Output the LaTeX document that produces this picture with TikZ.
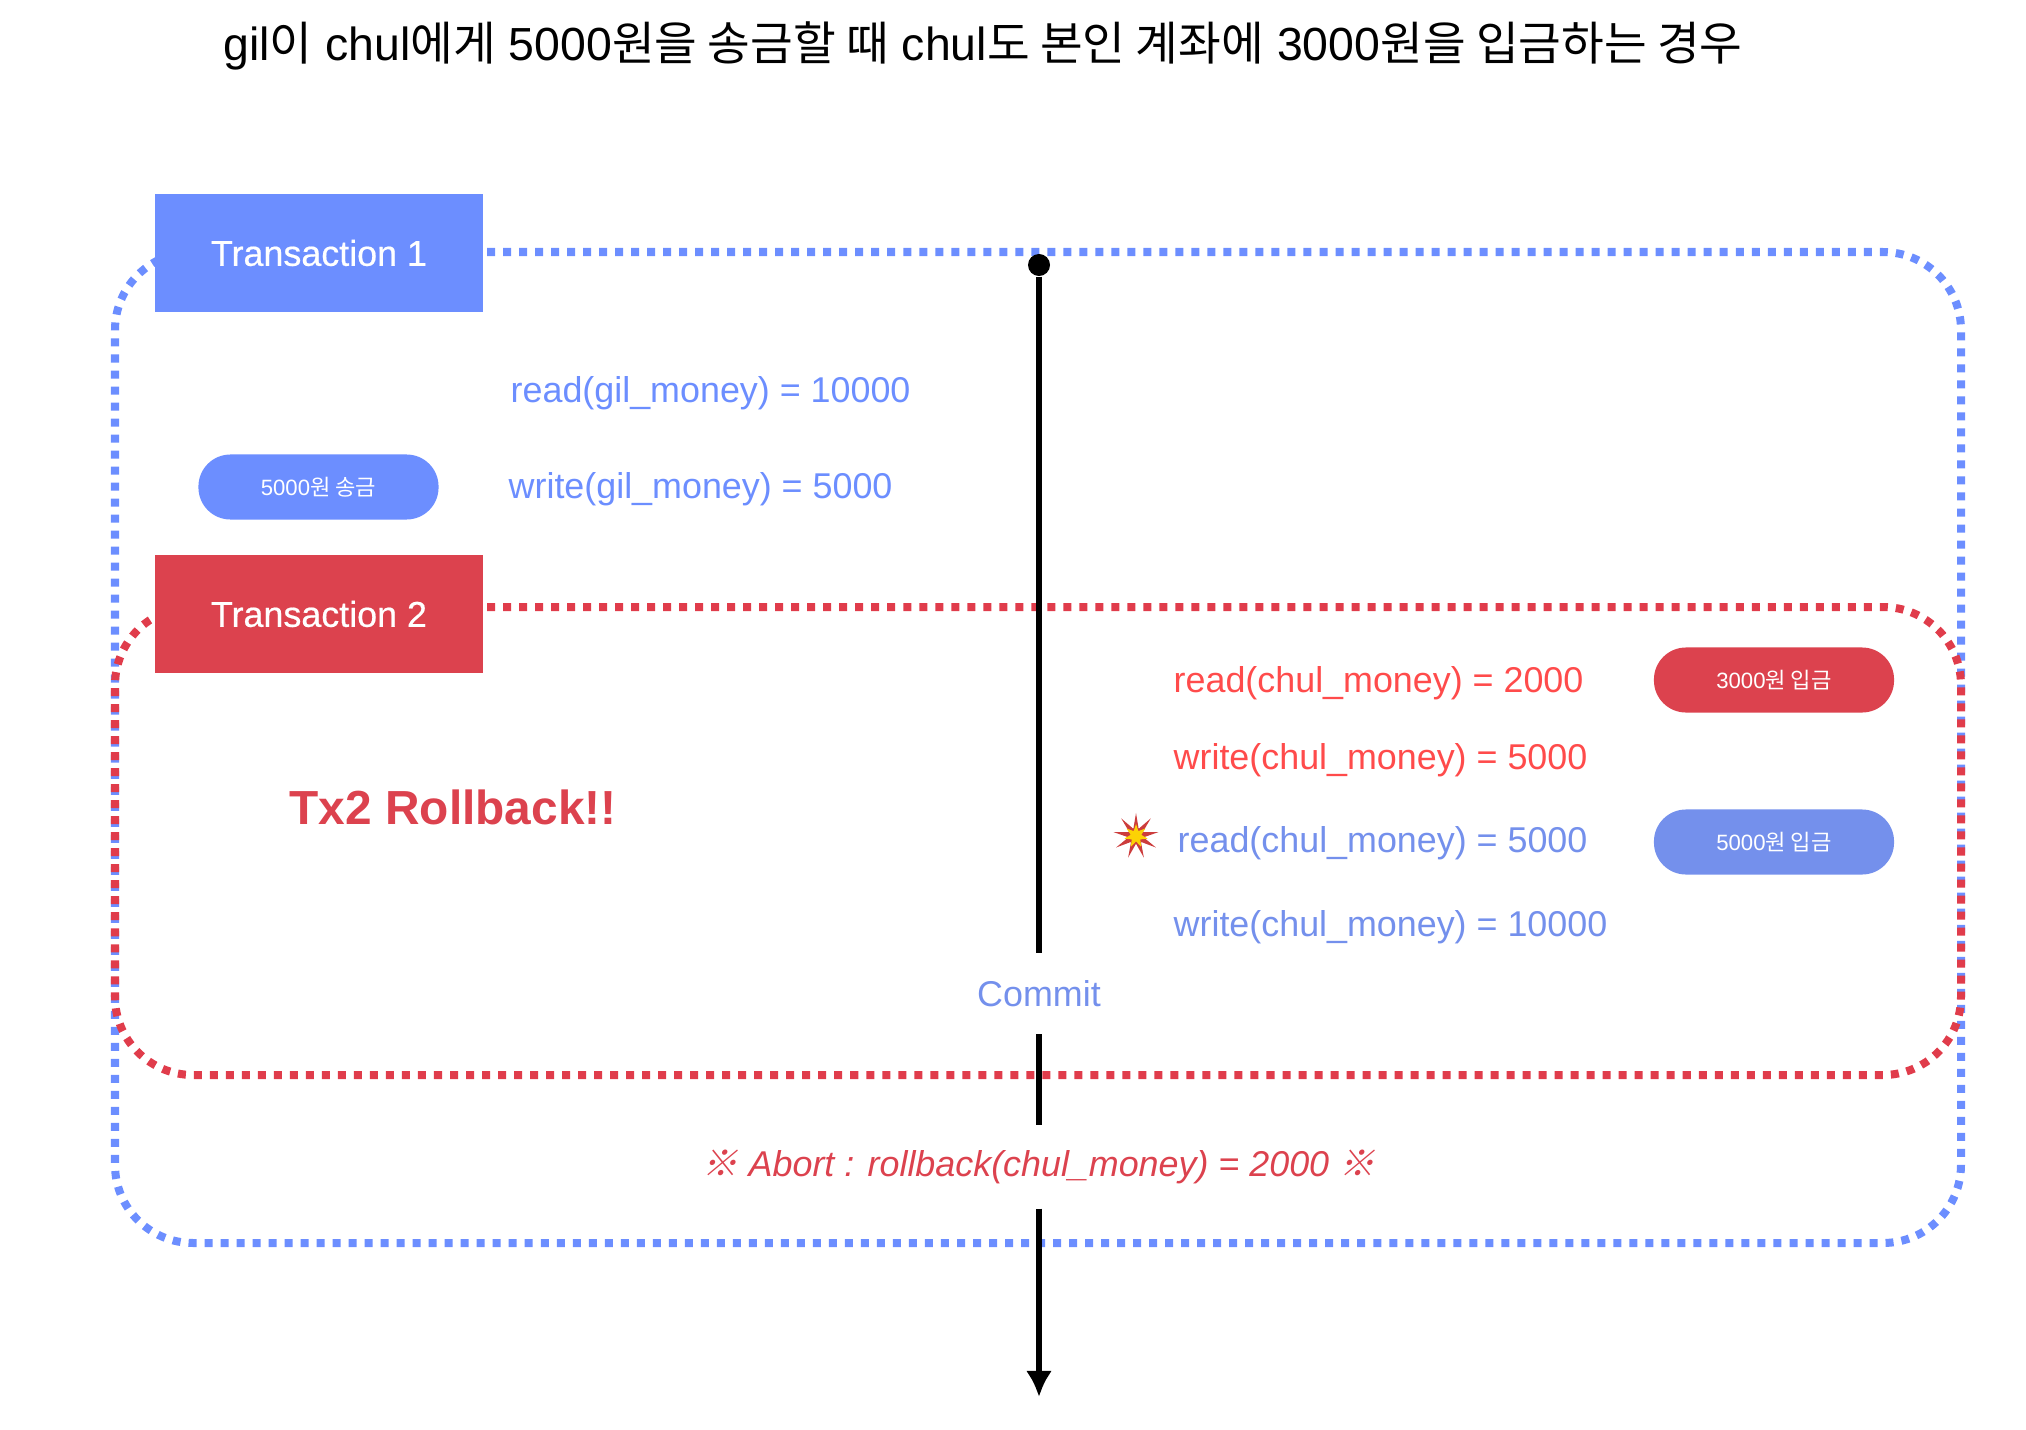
\documentclass[tikz,border=0pt]{standalone}
\usepackage{fontspec}
\setmainfont{Liberation Sans}
\newfontfamily\krfont{Noto Sans CJK KR}
\newfontfamily\krslant[FakeSlant=0.2]{Noto Sans CJK KR}
\newfontfamily\medfont[FakeBold=0.5]{Liberation Sans}
\newcommand{\kr}[1]{{\krfont #1}}
\usetikzlibrary{arrows.meta,shapes.geometric}
\definecolor{TxBlue}{HTML}{6C8EFF}
\definecolor{TxBlueDark}{HTML}{7490EC}
\definecolor{TxRed}{HTML}{DC424E}
\definecolor{TxRedLine}{HTML}{E03C4B}
\definecolor{TxRedText}{HTML}{FF4B4B}

\begin{document}
\begin{tikzpicture}[
      x=0.01cm, y=-0.01cm,
      caja/.style={rectangle, minimum width=3.28cm, minimum height=1.18cm,
        text=white, inner sep=0pt, font=\medfont\fontsize{10.2}{12}\selectfont},
      pill/.style={rectangle, rounded corners=0.32cm, minimum width=2.4cm,
        minimum height=0.65cm, text=white, inner sep=0pt,
        font=\fontsize{6.3}{8}\selectfont},
      etiqueta/.style={anchor=west, inner sep=0pt, font=\fontsize{10.2}{12}\selectfont},
      marco/.style={line width=0.08cm, rounded corners=0.78cm,
        dash pattern=on 0.08cm off 0.08cm},
      eje/.style={draw=black, line width=0.06cm},
      corte/.style={inner sep=0pt, minimum height=0.8cm, font=\fontsize{10.2}{12}\selectfont},
    ]
    \useasboundingbox (0,0) rectangle (2026,1430);

    \node[inner sep=0pt, font=\fontsize{13.2}{16}\selectfont] (titulo) at (983,46)
      {gil\kr{이} chul\kr{에게} 5000\kr{원을 송금할 때} chul\kr{도 본인 계좌에} 3000\kr{원을 입금하는 경우}};

    % dotted frames go below the boxes
    \draw[marco, draw=TxBlue] (487,252) -- (1961,252) -- (1961,1243) -- (115,1243) -- (115,252) -- (300,252);
    \draw[marco, draw=TxRedLine] (487,607) -- (1961,607) -- (1961,1075) -- (115,1075) -- (115,607) -- (300,607);

    \node[caja, fill=TxBlue] (tx1) at (319,253) {Transaction 1};
    \node[caja, fill=TxRed]  (tx2) at (319,614) {Transaction 2};

    \node[pill, fill=TxBlue]     (envio)    at (318.5,487) {5000\kr{원 송금}};
    \node[pill, fill=TxRed]      (ingreso)  at (1774,680)  {3000\kr{원 입금}};
    \node[pill, fill=TxBlueDark] (ingreso2) at (1774,842)  {5000\kr{원 입금}};

    \node[etiqueta, text=TxBlue]     (readgil)   at (510,393)  {read(gil\_money) = 10000};
    \node[etiqueta, text=TxBlue]     (writegil)  at (508,489)  {write(gil\_money) = 5000};
    \node[etiqueta, text=TxRedText]  (readchul)  at (1173,683) {read(chul\_money) = 2000};
    \node[etiqueta, text=TxRedText]  (writechul) at (1173,760) {write(chul\_money) = 5000};
    \node[etiqueta, text=TxBlueDark] (readchul2) at (1177,843) {read(chul\_money) = 5000};
    \node[etiqueta, text=TxBlueDark] (writechul2) at (1173,927) {write(chul\_money) = 10000};

    \node[anchor=west, inner sep=0pt, text=TxRed, font=\bfseries\fontsize{13.6}{16}\selectfont]
      (rollback) at (289,807) {Tx2 Rollback!!};

    % burst next to the third line
    \node[star, star points=9, star point ratio=3, minimum size=0.46cm, inner sep=0pt,
      fill=TxRedText!80!black] (boom) at (1136,836) {};
    \node[star, star points=7, star point ratio=2.2, minimum size=0.24cm, inner sep=0pt,
      fill=yellow!70!orange] (nucleo) at (boom.center) {};

    % time axis, broken by the two labels
    \node[circle, fill=black, minimum size=0.22cm, inner sep=0pt] (inicio) at (1039,265) {};
    \node[corte, text=TxBlueDark] (commit) at (1039,993.5) {Commit};
    \node[corte, text=TxRed, minimum height=0.82cm, font=\itshape\fontsize{10.2}{12}\selectfont] (abort) at (1039,1167)
      {{\krslant ※} Abort : rollback(chul\_money) = 2000 {\krslant ※}};
    \coordinate (fin) at (1039,1397);

    \draw[eje] (inicio) -- (commit);
    \draw[eje] (commit) -- (abort);
    \draw[eje, -{Latex[length=0.26cm,width=0.26cm]}] (abort.south -| fin) -- (fin);

  \end{tikzpicture}
\end{document}
